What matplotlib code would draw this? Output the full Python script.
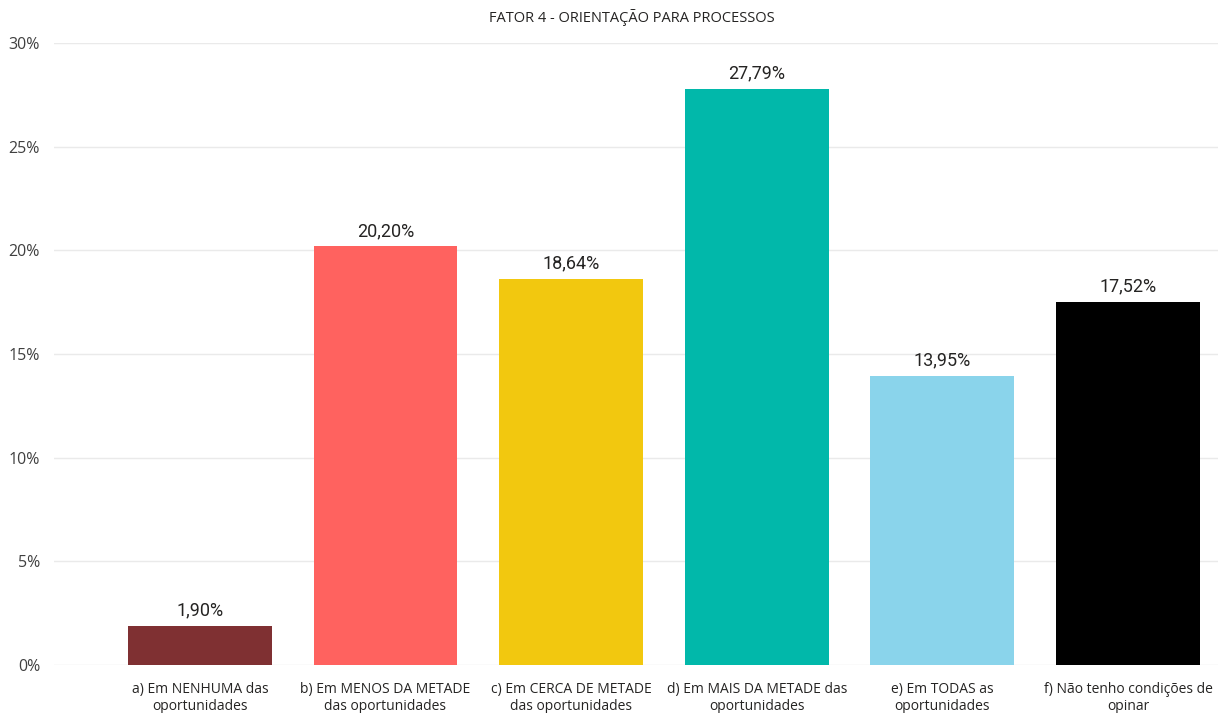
import matplotlib
matplotlib.use('Agg')
import matplotlib.pyplot as plt
from matplotlib.ticker import FuncFormatter

# Dados do fator 4
categorias = [
    'a) Em NENHUMA das\noportunidades',
    'b) Em MENOS DA METADE\ndas oportunidades',
    'c) Em CERCA DE METADE\ndas oportunidades',
    'd) Em MAIS DA METADE das\noportunidades',
    'e) Em TODAS as\noportunidades',
    'f) Não tenho condições de\nopinar',
]
percentuais = [1.90, 20.20, 18.64, 27.79, 13.95, 17.52]
cores = ['#7F3032', '#FF625F', '#F2C80F', '#01B8AA', '#8AD4EB', '#000000']
yticks = [0, 5, 10, 15, 20, 25, 30]

plt.rcParams['font.family'] = ['Open Sans', 'DejaVu Sans']

fig = plt.figure(figsize=(12.24, 7.13), dpi=100)
ax = fig.add_axes([0.0441, 0.0673, 0.9510, 0.8724])

x = range(len(categorias))
barras = ax.bar(x, percentuais, width=0.775, color=cores, zorder=3)

for b, v in zip(barras, percentuais):
    ax.text(b.get_x() + b.get_width() / 2, v + 0.3, f'{v:.2f}%'.replace('.', ','),
            ha='center', va='bottom', fontsize=13, color='#252423',
            family=['Roboto', 'DejaVu Sans'])

ax.set_xlim(-0.786, 5.485)
ax.set_ylim(0, 30)
ax.set_yticks(yticks)
ax.yaxis.set_major_formatter(FuncFormatter(lambda v, p: f'{v:.0f}%'))
ax.set_xticks(list(x))
ax.set_xticklabels(categorias, fontsize=10, color='#252423', linespacing=1.2)
ax.tick_params(axis='y', labelsize=11.5, colors='#404040', length=0, pad=10)
ax.tick_params(axis='x', length=0, pad=12)
ax.grid(axis='y', color='#EAEAEA', linewidth=1, zorder=0)
for s in ax.spines.values():
    s.set_visible(False)

fig.text(0.516, 0.975, 'FATOR 4 - ORIENTAÇÃO PARA PROCESSOS', ha='center', va='center',
         fontsize=10.5, color='#252423')

fig.savefig('out.png', dpi=100)
